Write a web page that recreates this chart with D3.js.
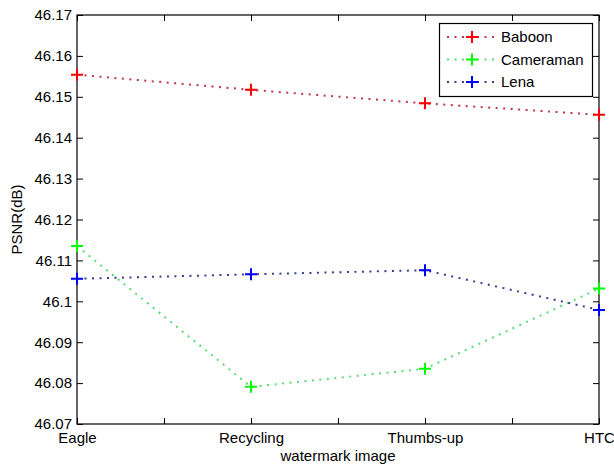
<!DOCTYPE html>
<html>
<head>
<meta charset="utf-8">
<script src="https://cdn.jsdelivr.net/npm/d3@7"></script>
<style>
  body { margin: 0; background: #fff; }
  svg { font-family: "Liberation Sans", Arial, sans-serif; }
</style>
</head>
<body>
<div class="chart"></div>
<script>
// data
var categories = ["Eagle", "Recycling", "Thumbs-up", "HTC"];
var baboon    = [46.1554, 46.1517, 46.1484, 46.1456];
var cameraman = [46.1135, 46.0791, 46.0835, 46.1031];
var lena      = [46.1055, 46.1066, 46.1076, 46.0979];
var yTicks = [46.07, 46.08, 46.09, 46.1, 46.11, 46.12, 46.13, 46.14, 46.15, 46.16, 46.17];

var series = [
    {name: "Baboon",    values: baboon,    line: "#c0344e", mark: "#ff0000"},
    {name: "Cameraman", values: cameraman, line: "#55dd70", mark: "#00ff00"},
    {name: "Lena",      values: lena,      line: "#3a3a96", mark: "#0000ff"}
];

var width = 614, height = 469;
var plotL = 77, plotR = 599, plotT = 15, plotB = 424;

var svg = d3.select(".chart").append("svg")
    .attr("width", width)
    .attr("height", height);

var x = d3.scaleLinear().domain([0, categories.length - 1]).range([plotL, plotR]);
var y = d3.scaleLinear().domain([46.07, 46.17]).range([plotB, plotT]);

var xTickVals = d3.range(0, categories.length - 0.99, 0.5);

function styleAxis(g) {
    g.select(".domain").remove();
    g.selectAll("line").attr("stroke", "#000");
    g.selectAll("text").attr("fill", "#000").style("font-size", "15px");
}

// frame
svg.append("rect")
    .attr("x", plotL).attr("y", plotT)
    .attr("width", plotR - plotL).attr("height", plotB - plotT)
    .attr("fill", "none").attr("stroke", "#000").attr("stroke-width", 1.2);

svg.append("g")
    .attr("transform", "translate(0," + plotB + ")")
    .call(d3.axisBottom(x).tickValues(xTickVals)
        .tickFormat(function(d) { return d % 1 === 0 ? categories[d] : ""; })
        .tickSizeInner(-6).tickSizeOuter(0).tickPadding(8))
    .call(styleAxis);

svg.append("g")
    .attr("transform", "translate(0," + plotT + ")")
    .call(d3.axisTop(x).tickValues(xTickVals).tickFormat("")
        .tickSizeInner(-6).tickSizeOuter(0))
    .call(styleAxis);

svg.append("g")
    .attr("transform", "translate(" + plotL + ",0)")
    .call(d3.axisLeft(y).tickValues(yTicks).tickFormat(d3.format("~g"))
        .tickSizeInner(-6).tickSizeOuter(0).tickPadding(5))
    .call(styleAxis);

svg.append("g")
    .attr("transform", "translate(" + plotR + ",0)")
    .call(d3.axisRight(y).tickValues(yTicks).tickFormat("")
        .tickSizeInner(-6).tickSizeOuter(0))
    .call(styleAxis);

// axis titles
svg.append("text")
    .attr("x", (plotL + plotR) / 2).attr("y", 461)
    .attr("text-anchor", "middle")
    .style("font-size", "15px")
    .text("watermark image");

svg.append("text")
    .attr("transform", "translate(22," + (plotT + plotB) / 2 + ") rotate(-90)")
    .attr("text-anchor", "middle")
    .style("font-size", "15px")
    .text("PSNR(dB)");

// lines and markers
var line = d3.line()
    .x(function(d, i) { return x(i); })
    .y(function(d) { return y(d); });

function plus(g, cx, cy, color) {
    g.append("path")
        .attr("d", "M" + (cx - 6) + "," + cy + "H" + (cx + 6) + "M" + cx + "," + (cy - 6) + "V" + (cy + 6))
        .attr("stroke", color).attr("stroke-width", 2).attr("fill", "none");
}

series.forEach(function(s) {
    svg.append("path")
        .datum(s.values)
        .attr("d", line)
        .attr("fill", "none")
        .attr("stroke", s.line)
        .attr("stroke-width", 2)
        .attr("stroke-dasharray", "2,5.5");
    var g = svg.append("g");
    s.values.forEach(function(v, i) { plus(g, x(i), y(v), s.mark); });
});

// legend
var legend = svg.append("g");
legend.append("rect")
    .attr("x", 439.5).attr("y", 23.5)
    .attr("width", 153).attr("height", 73)
    .attr("fill", "#fff").attr("stroke", "#000").attr("stroke-width", 1.2);

series.forEach(function(s, i) {
    var ly = 37 + i * 22.5;
    legend.append("line")
        .attr("x1", 447).attr("x2", 498).attr("y1", ly).attr("y2", ly)
        .attr("stroke", s.line).attr("stroke-width", 2)
        .attr("stroke-dasharray", "2,5.5");
    plus(legend, 472, ly, s.mark);
    legend.append("text")
        .attr("x", 501).attr("y", ly).attr("dy", "0.35em")
        .style("font-size", "15px")
        .text(s.name);
});
</script>
</body>
</html>
